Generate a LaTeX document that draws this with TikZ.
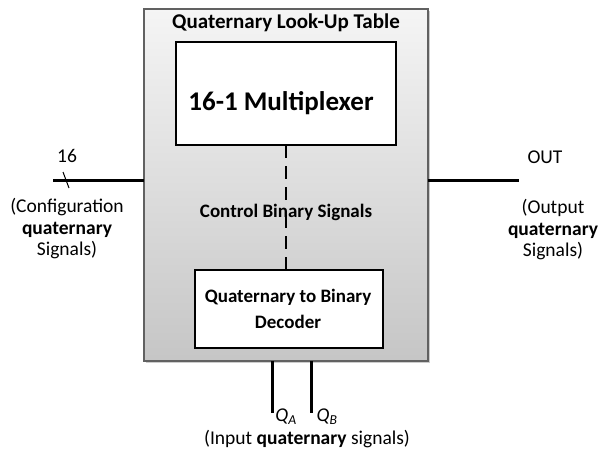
\documentclass[tikz,border=0pt]{standalone}
\usepackage{fontspec}
\setmainfont{Carlito}
\usetikzlibrary{shadows}
\begin{document}
\begin{tikzpicture}[x=1pt,y=-1pt,
  wire/.style={line width=3pt,black},
  inner/.style={draw=black,line width=1.4pt,fill=white},
  ctrlline/.style={line width=2.4pt,dash pattern=on 13pt off 8pt},
  lbl/.style={font=\fontsize{19.5}{21.5}\selectfont,align=center,inner sep=0pt},
  blbl/.style={lbl,font=\fontsize{19}{26}\selectfont\bfseries}]
\useasboundingbox (0,0) rectangle (598,453);
% outer look-up table block
\path[draw=black!62,line width=1.6pt,top color=gray!8,bottom color=gray!45,
      drop shadow={shadow xshift=1.5pt,shadow yshift=-1.5pt,opacity=0.4}]
  (144,9) rectangle (428,361);
\node[blbl,font=\fontsize{21}{26}\selectfont\bfseries] (title) at (286,23) {Quaternary Look-Up Table};
% multiplexer
\draw[inner] (176,42) rectangle (396,145);
\node[lbl,font=\fontsize{27}{30}\selectfont\bfseries] (mux) at (281,103) {16-1 Multiplexer};
\coordinate (muxb) at (286,145);
% decoder
\draw[inner] (195,270) rectangle (383,348);
\node[blbl] (dec) at (288,309) {Quaternary to Binary\\Decoder};
\coordinate (dect) at (286,270);
% control signals
\node[blbl] (ctrl) at (286,212) {Control Binary Signals};
\draw[ctrlline] (muxb) -- ([yshift=-3pt]ctrl.north);
\draw[ctrlline] ([yshift=5pt]ctrl.south) -- (dect);
% configuration input
\coordinate (cfgL) at (53,180);
\coordinate (cfgR) at (144,180);
\draw[wire] (cfgL) -- (cfgR);
\coordinate (t1) at (63,172);
\coordinate (t2) at (69,188);
\draw[line width=1pt] (t1) -- (t2);
\node[lbl] (n16) at (67,156) {16};
\node[lbl] (cfg) at (67,229)
  {(Configuration\\\textbf{quaternary}\\Signals)};
% output
\coordinate (outL) at (428,180);
\coordinate (outR) at (519,180);
\draw[wire] (outL) -- (outR);
\node[lbl] (out) at (545,157) {OUT};
\node[lbl] (outd) at (553,230)
  {(Output\\\textbf{quaternary}\\Signals)};
% quaternary inputs
\coordinate (qaT) at (272,361);
\coordinate (qaB) at (272,413);
\coordinate (qbT) at (311,361);
\coordinate (qbB) at (311,413);
\draw[wire] (qaT) -- (qaB);
\draw[wire] (qbT) -- (qbB);
\node[lbl] (qa) at (286,417) {\textit{Q}\textsubscript{\textit{A}}};
\node[lbl] (qb) at (327,417) {\textit{Q}\textsubscript{\textit{B}}};
\node[lbl] (inp) at (307,439) {(Input \textbf{quaternary} signals)};
\end{tikzpicture}
\end{document}
